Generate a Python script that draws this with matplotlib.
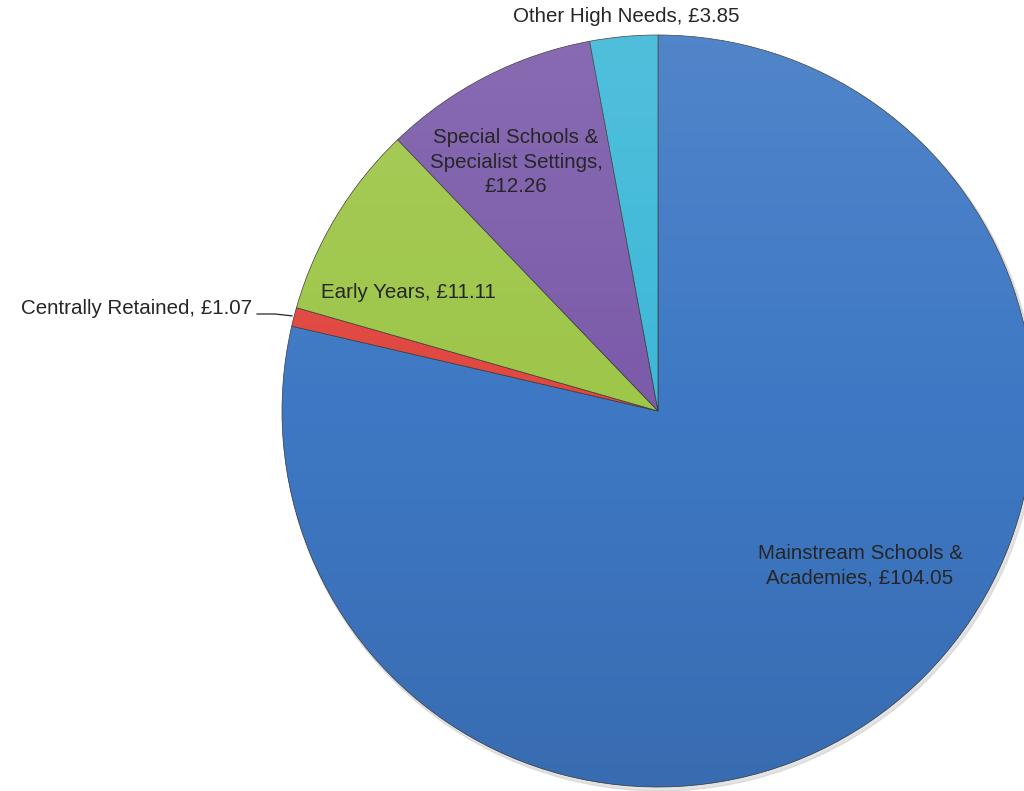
import numpy as np
import matplotlib
matplotlib.use("Agg")
import matplotlib.pyplot as plt
from matplotlib.patches import Circle

plt.rcParams['font.family'] = ['Liberation Sans', 'DejaVu Sans']

# data (£m)
categories = ["Mainstream Schools &\nAcademies", "Centrally Retained", "Early Years",
              "Special Schools &\nSpecialist Settings,\n", "Other High Needs"]
values = [104.05, 1.07, 11.11, 12.26, 3.85]
colours = ["#3E78C4", "#E0473F", "#9EC649", "#7B5BAA", "#3DB8D8"]

W, H = 1024, 791
fig = plt.figure(figsize=(W / 100, H / 100), dpi=100)
ax = fig.add_axes([0, 0, 1, 1])

cx, cy, r = 658, H - 411, 376

# faint drop shadow
ax.add_patch(Circle((cx + 2, cy - 3), r + 1, color='#c8c8c8', alpha=0.5, zorder=0))

wedges, _ = ax.pie(values, colors=colours, startangle=90, counterclock=False,
                   center=(cx, cy), radius=r, frame=True,
                   wedgeprops=dict(edgecolor='#3a3a3a', linewidth=0.5, zorder=1))
ax.set_xlim(0, W)
ax.set_ylim(0, H)
ax.set_aspect('equal')
ax.axis('off')

# soft vertical shading over the pie
grad = np.zeros((256, 2, 4))
t = np.linspace(0, 1, 256)[:, None]
grad[..., :3] = np.where(t[..., None] < 0.5, 1.0, 0.0)
grad[..., 3] = np.abs(t - 0.5) * 0.2
im = ax.imshow(grad, extent=(cx - r, cx + r, cy - r, cy + r), origin='upper',
               aspect='auto', zorder=2)
im.set_clip_path(Circle((cx, cy), r, transform=ax.transData))

txt = dict(fontsize=14.8, color='#262626', zorder=5, linespacing=1.35)
vals_txt = []
for c, v in zip(categories, values):
    sep = "" if c.endswith("\n") else ", "
    vals_txt.append(f"{c}{sep}£{v:.2f}")

ax.text(860, H - 566, vals_txt[0], ha='center', va='center', **txt)
ax.text(252, H - 308, vals_txt[1], ha='right', va='center', **txt)
ax.text(408, H - 292, vals_txt[2], ha='center', va='center', **txt)
ax.text(516, H - 162, vals_txt[3], ha='center', va='center', **txt)
ax.text(626, H - 17, vals_txt[4], ha='center', va='center', **txt)

# leader line for the thin slice
total = sum(values)
mid = np.deg2rad(90 - 360 * (values[0] + values[1] / 2) / total)
ex, ey = cx + r * np.cos(mid), cy + r * np.sin(mid)
ax.plot([257, 275, ex - 2], [H - 314, H - 314, ey + 1], color='#262626', lw=0.9, zorder=5)

fig.savefig("out.png", dpi=100)
